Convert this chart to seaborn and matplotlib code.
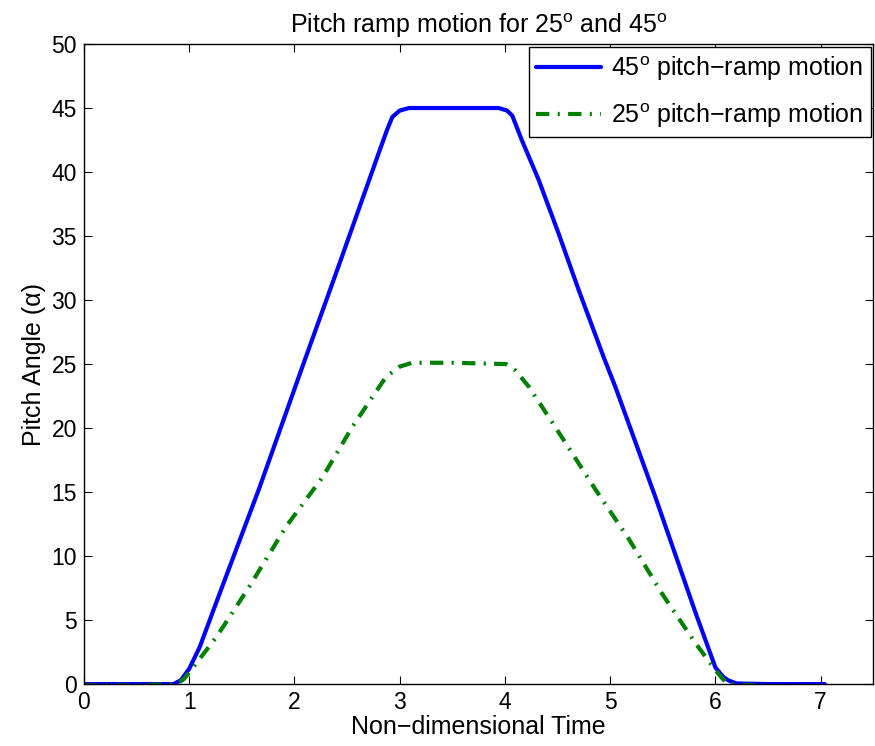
import seaborn as sns
import matplotlib
matplotlib.use("Agg")
import matplotlib.pyplot as plt

# data
time_45 = [0, 0.5, 0.85, 0.92, 1.0, 1.10, 1.29, 1.67, 2.08, 2.43, 2.62, 2.81, 2.88, 2.93, 3.0, 3.09,
           3.5, 3.94, 4.02, 4.07, 4.16, 4.32, 4.51, 4.70, 4.94, 5.05, 5.43, 5.81, 6.0, 6.07, 6.12, 6.2, 6.5, 7.04]
pitch_45 = [0, 0, 0, 0.3, 1.2, 2.9, 7.1, 15.4, 24.9, 32.9, 37.3, 41.7, 43.3, 44.3, 44.8, 45,
            45, 45, 44.8, 44.4, 42.5, 39.4, 35.2, 30.8, 25.5, 23.2, 14.6, 5.6, 1.3, 0.6, 0.3, 0.05, 0, 0]

time_25 = [0, 0.5, 0.88, 0.95, 1.0, 1.26, 1.57, 1.92, 2.27, 2.55, 2.87, 3.0, 3.12, 3.5,
           4.01, 4.1, 4.23, 4.54, 4.86, 5.18, 5.49, 5.81, 6.0, 6.07, 6.12, 6.5, 7.0]
pitch_25 = [-0.1, -0.1, 0, 0.4, 0.9, 3.7, 7.6, 12.3, 16.2, 20.1, 24.0, 24.8, 25.1, 25.1,
            25.0, 24.5, 23.2, 19.3, 15.2, 11.3, 7.1, 3.2, 1.1, 0.4, 0, -0.15, -0.15]

x_ticks = [0, 1, 2, 3, 4, 5, 6, 7]
y_ticks = [0, 5, 10, 15, 20, 25, 30, 35, 40, 45, 50]

sns.set_style("ticks")
plt.rcParams['font.family'] = ['Liberation Sans', 'DejaVu Sans']
plt.rcParams['mathtext.fontset'] = 'custom'
plt.rcParams['mathtext.rm'] = 'Liberation Sans'
plt.rcParams['xtick.direction'] = 'in'
plt.rcParams['ytick.direction'] = 'in'
plt.rcParams['xtick.top'] = True
plt.rcParams['ytick.right'] = True
plt.rcParams['text.color'] = 'black'
plt.rcParams['axes.labelcolor'] = 'black'
plt.rcParams['xtick.color'] = 'black'
plt.rcParams['ytick.color'] = 'black'

fs = 18
tfs = 16.5
fig = plt.figure(figsize=(8.75, 7.46), dpi=100)
ax = fig.add_axes([0.096, 0.083, 0.902, 0.858])

sns.lineplot(x=time_45, y=pitch_45, ax=ax, color=(0, 0, 1), linewidth=3,
             label=r"45$^\mathregular{o}$ pitch−ramp motion")
sns.lineplot(x=time_25, y=pitch_25, ax=ax, color=(0, 0.5, 0), linewidth=3,
             linestyle=(0, (3.2, 2.0, 0.5, 2.0)),
             label=r"25$^\mathregular{o}$ pitch−ramp motion")

ax.set_xlim(0, 7.5)
ax.set_ylim(0, 50)
ax.set_xticks(x_ticks)
ax.set_yticks(y_ticks)
ax.tick_params(labelsize=tfs, length=6, width=0.8, color='black', pad=5)
for s in ax.spines.values():
    s.set_color('black')
    s.set_linewidth(1)

ax.set_title(r"Pitch ramp motion for 25$^\mathregular{o}$ and 45$^\mathregular{o}$", fontsize=fs, pad=8)
ax.set_xlabel("Non−dimensional Time", fontsize=fs, labelpad=1)
ax.set_ylabel("Pitch Angle (α)", fontsize=fs, labelpad=4)

leg = ax.legend(loc='upper right', fontsize=fs, handlelength=2.6, handletextpad=0.4,
                labelspacing=0.75, frameon=True, fancybox=False, borderaxespad=0.1,
                borderpad=0.3, framealpha=1, edgecolor='black')
leg.get_frame().set_linewidth(1)

plt.savefig("out.png", dpi=100)
